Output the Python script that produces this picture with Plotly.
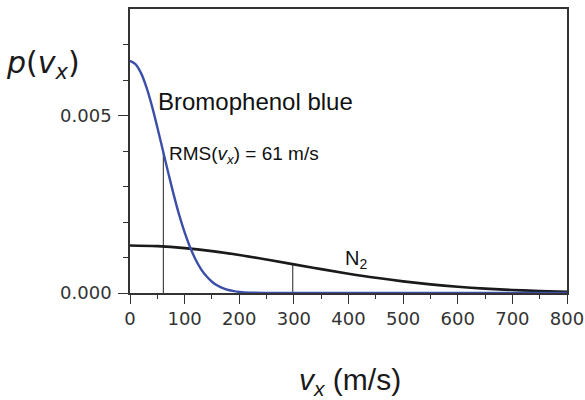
import plotly.graph_objects as go

# Bromophenol blue distribution
v_bb = [0, 10, 20, 30, 40, 50, 60, 70, 80, 90, 100, 110, 120, 130, 140, 150,
        160, 170, 180, 190, 200, 220, 250, 300, 400, 500, 600, 700, 800]
p_bb = [0.00654, 0.00645, 0.00620, 0.00580, 0.00528, 0.00467, 0.00403, 0.00339,
        0.00277, 0.00220, 0.00171, 0.00129, 0.000945, 0.000675, 0.000470, 0.000318,
        0.000210, 0.000135, 0.000084, 0.000051, 0.000030, 0.0000098, 0.0000015,
        0.0, 0.0, 0.0, 0.0, 0.0, 0.0]

# N2 distribution
v_n2 = [0, 50, 100, 150, 200, 250, 300, 350, 400, 450, 500, 550, 600, 650,
        700, 750, 800]
p_n2 = [0.001339, 0.001320, 0.001265, 0.001179, 0.001069, 0.000942, 0.000807,
        0.000672, 0.000544, 0.000428, 0.000328, 0.000244, 0.000176, 0.000124,
        0.0000848, 0.0000564, 0.0000365]

# RMS markers
rms_v = [61, 298]
rms_p = [0.00397, 0.00081]

x_ticks = [0, 100, 200, 300, 400, 500, 600, 700, 800]
y_ticks = [0.0, 0.005]
y_tick_labels = ["0.000", "0.005"]

fig = go.Figure()
for v, p in zip(rms_v, rms_p):
    fig.add_trace(go.Scatter(x=[v, v], y=[0, p], mode="lines",
                             line=dict(color="#222222", width=1), showlegend=False))
fig.add_trace(go.Scatter(x=v_n2, y=p_n2, mode="lines", line=dict(color="#1a1a1a", width=2.6, shape="spline"),
                         showlegend=False))
fig.add_trace(go.Scatter(x=v_bb, y=p_bb, mode="lines", line=dict(color="#3b4fa8", width=2.4, shape="spline"),
                         showlegend=False))

tickfont = dict(family="DejaVu Sans", size=18, color="#333333")
fig.update_layout(
    width=585, height=400, autosize=False,
    margin=dict(l=130, r=18, t=9, b=107),
    plot_bgcolor="white", paper_bgcolor="white",
    xaxis=dict(range=[0, 800], tickvals=x_ticks, ticks="outside", ticklen=9, tickwidth=1.2,
               tickcolor="#333333", showline=True, linecolor="#333333", linewidth=1.5, mirror=True,
               showgrid=False, zeroline=False, tickfont=tickfont, layer="below traces", automargin=False,
               minor=dict(tickvals=[50, 150, 250, 350, 450, 550, 650, 750], ticks="outside",
                          ticklen=4, tickcolor="#333333", tickwidth=1)),
    yaxis=dict(range=[0, 0.008], tickvals=y_ticks, ticktext=y_tick_labels, ticks="outside",
               ticklen=10, tickwidth=1.2, tickcolor="#333333", showline=True, linecolor="#333333",
               linewidth=1.5, mirror=True, showgrid=False, zeroline=False, tickfont=tickfont,
               layer="below traces", ticklabelstandoff=3, automargin=False,
               minor=dict(tickvals=[0.001, 0.002, 0.003, 0.004, 0.006, 0.007], ticks="outside",
                          ticklen=5, tickcolor="#333333", tickwidth=1)),
    annotations=[
        dict(text="<i>p</i>(<i>v</i><sub><i>x</i></sub>)", xref="paper", yref="paper",
             x=-0.2, y=0.805, showarrow=False, font=dict(family="DejaVu Sans", size=30, color="#1a1a1a"),
             xanchor="center", yanchor="middle"),
        dict(text="<i>v</i><sub><i>x</i></sub> (m/s)", xref="paper", yref="paper",
             x=0.503, y=-0.31, showarrow=False, font=dict(family="Liberation Sans", size=30, color="#1a1a1a"),
             xanchor="center", yanchor="middle"),
        dict(text="Bromophenol blue", x=48, y=0.0054, xanchor="left", yanchor="middle", showarrow=False,
             font=dict(family="Liberation Sans", size=24, color="#111111")),
        dict(text="RMS(<i>v</i><sub><i>x</i></sub>) = 61 m/s", x=67, y=0.0039, xanchor="left",
             yanchor="middle", showarrow=False, font=dict(family="Liberation Sans", size=19, color="#111111")),
        dict(text="N<sub>2</sub>", x=413, y=0.00093, xanchor="center", yanchor="middle", showarrow=False,
             font=dict(family="Liberation Sans", size=20, color="#111111")),
    ],
)
fig.write_html("out.html", config={"responsive": False, "displayModeBar": False},
               post_script="document.body.style.margin='0px';")
